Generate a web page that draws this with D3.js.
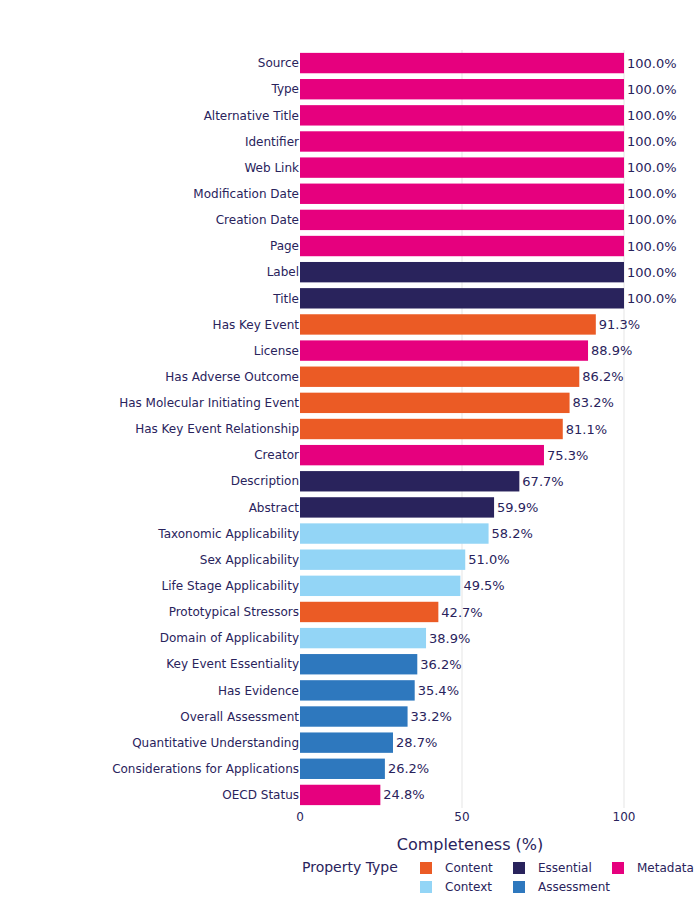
<!DOCTYPE html>
<html><head><meta charset="utf-8">
<script src="https://cdn.jsdelivr.net/npm/d3@7"></script>
<style>body{margin:0;background:#fff;font-family:"DejaVu Sans",sans-serif}</style>
</head><body><div id="chart"></div>
<script>
const properties = ["Source","Type","Alternative Title","Identifier","Web Link","Modification Date","Creation Date","Page","Label","Title","Has Key Event","License","Has Adverse Outcome","Has Molecular Initiating Event","Has Key Event Relationship","Creator","Description","Abstract","Taxonomic Applicability","Sex Applicability","Life Stage Applicability","Prototypical Stressors","Domain of Applicability","Key Event Essentiality","Has Evidence","Overall Assessment","Quantitative Understanding","Considerations for Applications","OECD Status"];
const completeness = [100,100,100,100,100,100,100,100,100,100,91.3,88.9,86.2,83.2,81.1,75.3,67.7,59.9,58.2,51.0,49.5,42.7,38.9,36.2,35.4,33.2,28.7,26.2,24.8];
const types = ["Metadata","Metadata","Metadata","Metadata","Metadata","Metadata","Metadata","Metadata","Essential","Essential","Content","Metadata","Content","Content","Content","Metadata","Essential","Essential","Context","Context","Context","Content","Context","Assessment","Assessment","Assessment","Assessment","Assessment","Metadata"];
const legendOrder = ["Content","Essential","Metadata","Context","Assessment"];
const typeColors = ["#EB5B25","#29235C","#E6007E","#93D5F6","#2E78BE"];
const xTicks = [0,50,100];

const W = 700, H = 914, txt = "#29235C";
const svg = d3.select("#chart").append("svg").attr("width", W).attr("height", H)
  .style("font-family", "'DejaVu Sans', sans-serif");
const x = d3.scaleLinear().domain([0,100]).range([300,624]);
const y = d3.scaleBand().domain(properties).range([50,808]).paddingInner(0.22).paddingOuter(0.11);
const color = d3.scaleOrdinal().domain(legendOrder).range(typeColors);

svg.append("g").selectAll("line").data(xTicks.slice(1)).join("line")
  .attr("x1", d => x(d)).attr("x2", d => x(d)).attr("y1", 50).attr("y2", 808)
  .attr("stroke", "#e5e5e5");

svg.append("g").selectAll("rect").data(properties).join("rect")
  .attr("x", x(0)).attr("y", d => y(d))
  .attr("width", (d,i) => x(completeness[i]) - x(0)).attr("height", y.bandwidth())
  .attr("fill", (d,i) => color(types[i]));

svg.append("g").selectAll("text").data(properties).join("text")
  .attr("x", (d,i) => x(completeness[i]) + 3).attr("y", d => y(d) + y.bandwidth()/2)
  .attr("dy", "0.35em").attr("font-size", 13).attr("fill", txt)
  .text((d,i) => completeness[i].toFixed(1) + "%");

svg.append("g").selectAll("text").data(properties).join("text")
  .attr("x", x(0) - 1).attr("y", d => y(d) + y.bandwidth()/2)
  .attr("dy", "0.35em").attr("text-anchor", "end").attr("font-size", 12).attr("fill", txt)
  .text(d => d);

svg.append("g").selectAll("text").data(xTicks).join("text")
  .attr("x", d => x(d)).attr("y", 821).attr("text-anchor", "middle")
  .attr("font-size", 12).attr("fill", txt).text(d => d);

svg.append("text").attr("x", 470).attr("y", 850).attr("text-anchor", "middle")
  .attr("font-size", 16).attr("fill", txt).text("Completeness (%)");

svg.append("text").attr("x", 302).attr("y", 872).attr("font-size", 14).attr("fill", txt).text("Property Type");
const pos = [[420,868],[513,868],[612,868],[420,887],[513,887]];
const lg = svg.append("g").selectAll("g").data(legendOrder).join("g")
  .attr("transform", (d,i) => `translate(${pos[i][0]},${pos[i][1]})`);
lg.append("rect").attr("x", 0).attr("y", -6).attr("width", 12).attr("height", 12).attr("fill", d => color(d));
lg.append("text").attr("x", 25).attr("dy", "0.35em").attr("font-size", 12).attr("fill", txt).text(d => d);
</script></body></html>
